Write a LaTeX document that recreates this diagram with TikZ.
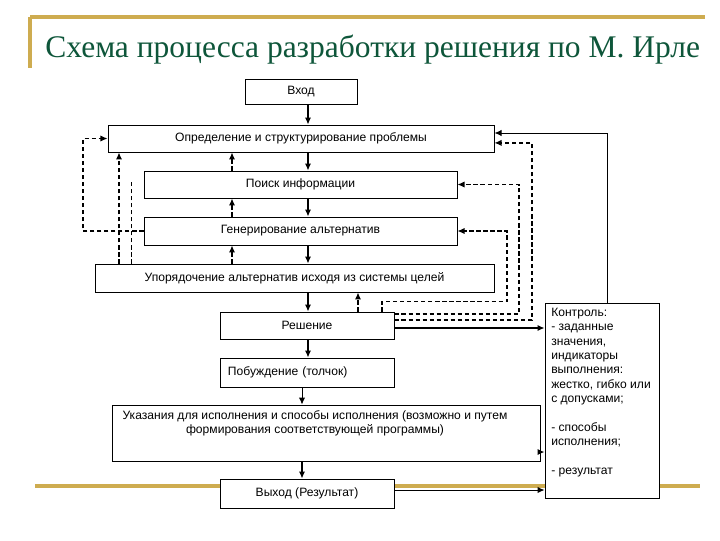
\documentclass[tikz,border=0pt]{standalone}
\usepackage{fontspec}
\setmainfont{Liberation Serif}
\newfontfamily\boxfont{Liberation Sans}
\usepackage{tikz}
\usetikzlibrary{arrows.meta}
\usepackage{xcolor}
\definecolor{titlegreen}{RGB}{14,86,58}
\definecolor{slidegold}{RGB}{206,172,80}

\begin{document}
\begin{tikzpicture}[
  x=0.025cm, y=-0.025cm,
  stage/.style={rectangle, draw, line width=0.6pt, fill=white, inner sep=0pt, align=center, font=\boxfont\fontsize{8.6}{10.2}\selectfont},
  stagetext/.style={inner sep=0pt, font=\boxfont\fontsize{8.6}{10.2}\selectfont},
  goldline/.style={line width=2.2pt, color=slidegold},
  flow/.style={line width=1.5pt, -{Latex[length=5pt,width=4.5pt]}},
  midflow/.style={line width=1pt, -{Latex[length=5pt,width=4.5pt]}},
  thinflow/.style={line width=0.7pt, -{Latex[length=5pt,width=4.5pt]}},
  backstep/.style={line width=1.5pt, dash pattern=on 3pt off 2pt, -{Latex[length=5pt,width=4.5pt]}},
  backloop/.style={line width=0.9pt, dash pattern=on 3pt off 2pt, -{Latex[length=5pt,width=4.5pt]}},
  thinloop/.style={line width=0.6pt, dash pattern=on 3pt off 2pt}
]
\useasboundingbox (0,0) rectangle (720,540);

% Slide frame and title
\draw[goldline] (30,17) -- (705,17);
\draw[goldline] (30,17) -- (30,68);
\draw[goldline] (35,486) -- (700,486);
\node[anchor=base west, inner sep=0pt, text=titlegreen, font=\fontsize{22.4}{26}\selectfont] (title) at (45,57) {Схема процесса разработки решения по М. Ирле};

% Main chain of stages
\node[stage, minimum width=2.8cm, minimum height=0.625cm] (vhod) at (301,91.5) {Вход};
\node[stage, minimum width=9.65cm, minimum height=0.675cm] (opred) at (301,138.5) {Определение и структурирование проблемы};
\node[stage, minimum width=7.825cm, minimum height=0.675cm] (poisk) at (300.5,184.5) {Поиск информации};
\node[stage, minimum width=7.825cm, minimum height=0.7cm] (gener) at (300.5,231) {Генерирование альтернатив};
\node[stage, minimum width=9.975cm, minimum height=0.7cm] (upor) at (294.5,278) {Упорядочение альтернатив исходя из системы целей};
\node[stage, minimum width=4.35cm, minimum height=0.675cm] (resh) at (307,325.5) {Решение};
\node[stage, minimum width=4.35cm, minimum height=0.725cm, text width=3.95cm, align=left] (pobu) at (307,372.5) {Побуждение (толчок)};
\node[stage, minimum width=10.7cm, minimum height=1.4cm] (ukaz) at (326,433) {};
\node[stagetext, anchor=north, align=center] (ukaztext) at (315,410) {Указания для исполнения и способы исполнения (возможно и путем\\формирования соответствующей программы)};
\node[stage, minimum width=4.35cm, minimum height=0.725cm] (vyhod) at (307,493.5) {Выход (Результат)};

% Control box
\node[stage, minimum width=2.85cm, minimum height=4.875cm] (kontrol) at (602,400.5) {};
\node[stagetext, anchor=north west, align=left] (kontroltext) at (551,308) {Контроль:\\- заданные\\значения,\\индикаторы\\выполнения:\\жестко, гибко или\\с допусками;\\[10.2pt]- способы\\исполнения;\\[10.2pt]- результат};

% Columns for the connectors
\coordinate (axis) at (308,0);
\coordinate (axislow) at (302,0);
\coordinate (back) at (232,0);
\coordinate (backr) at (358,0);
\coordinate (ltop) at (83,138.5);
\coordinate (lmid) at (119,0);
\coordinate (lend) at (131,182);
\coordinate (rgen) at (507,0);
\coordinate (rpoisk) at (519,0);
\coordinate (ropred) at (532,0);
\coordinate (rstart) at (382,0);
\coordinate (rctrl) at (607,0);

% Forward flow
\draw[flow] (vhod.south -| axis) -- (opred.north -| axis);
\draw[flow] (opred.south -| axis) -- (poisk.north -| axis);
\draw[flow] (poisk.south -| axis) -- (gener.north -| axis);
\draw[flow] (gener.south -| axis) -- (upor.north -| axis);
\draw[flow] (upor.south -| axis) -- (resh.north -| axis);
\draw[flow] (resh.south -| axis) -- (pobu.north -| axis);
\draw[thinflow] (pobu.south -| axislow) -- (ukaz.north -| axislow);
\draw[midflow] (ukaz.south -| axislow) -- (vyhod.north -| axislow);

% Short feedback steps
\draw[backstep] (poisk.north -| back) -- (opred.south -| back);
\draw[backstep] (gener.north -| back) -- (poisk.south -| back);
\draw[backstep] (upor.north -| back) -- (gener.south -| back);
\draw[backstep] (resh.north -| backr) -- (upor.south -| backr);

% Left feedback loops
\draw[backloop] (gener.west) -| (ltop) -- (opred.west);
\draw[backloop] (upor.north -| lmid) -- (opred.south -| lmid);
\draw[thinloop] (upor.north -| lend) -- (lend);

% Right feedback loops
\coordinate (reshhigh) at ([yshift=0.29cm]resh.east);
\coordinate (reshmid) at ([yshift=0.1375cm]resh.east);
\coordinate (reshout) at ([yshift=-0.0625cm]resh.east);
\coordinate (opredhigh) at ([yshift=0.1375cm]opred.east);
\coordinate (opredlow) at ([yshift=-0.11cm]opred.east);
\draw[backloop] (resh.north -| rstart) -- ++(0,-10) -| (gener.east -| rgen) -- (gener.east);
\draw[backloop] (reshhigh) -| (poisk.east -| rpoisk) -- (poisk.east);
\draw[backloop] (reshmid) -| (opredlow -| ropred) -- (opredlow);
\draw[thinflow] (kontrol.north -| rctrl) |- (opredhigh);

% Into the control box
\coordinate (ukazout) at ([yshift=-0.475cm]ukaz.east);
\coordinate (vyhodout) at ([yshift=0.0875cm]vyhod.east);
\draw[flow] (reshout) -- (reshout -| kontrol.west);
\draw[midflow] (ukazout) -- (ukazout -| kontrol.west);
\draw[thinflow] (vyhodout) -- (vyhodout -| kontrol.west);

\end{tikzpicture}
\end{document}
